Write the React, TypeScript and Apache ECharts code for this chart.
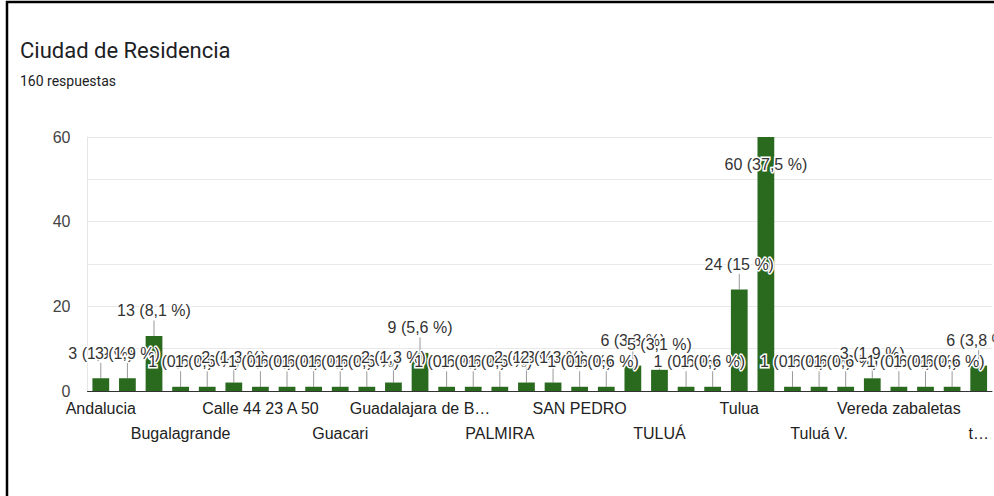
import React, { useEffect, useRef } from "react";
import * as echarts from "echarts";

const categories: string[] = [
  "Andalucia", "Andalucía", "BUGALAGRANDE", "Bugalagrande", "Bugalagrande Valle", "CALI",
  "Calle 44 23 A 50", "Cartago", "El Dovio", "Guacari", "Guacarí", "Guadalajara",
  "Guadalajara de Buga", "Guadalajara de Buga Valle", "La Marina", "PALMIRA", "Palmira", "RIOFRIO",
  "SAN PEDRO", "San Pedro", "TULUA", "TULUÁ", "TULUÁ VALLE", "Trujillo",
  "Tulua", "Tuluá", "Tulua Valle", "Tuluá V.", "Tuluá Valle", "Tuluá, Valle",
  "Vereda zabaletas", "Zarzal", "ciudad de Tuluá", "tuluá valle del cauca",
];

const counts: number[] = [
  3, 3, 13, 1, 1, 2,
  1, 1, 1, 1, 1, 2,
  9, 1, 1, 1, 2, 2,
  1, 1, 6, 5, 1, 1,
  24, 60, 1, 1, 1, 3,
  1, 1, 1, 6,
];

// Displayed tick labels (Google Charts shows every third, alternating rows)
const tickLabels: string[] = [
  "Andalucia", "", "", "Bugalagrande", "", "",
  "Calle 44 23 A 50", "", "", "Guacari", "", "",
  "Guadalajara de B…", "", "", "PALMIRA", "", "",
  "SAN PEDRO", "", "", "TULUÁ", "", "",
  "Tulua", "", "", "Tuluá V.", "", "",
  "Vereda zabaletas", "", "", "t…",
];

const yTicks: number[] = [0, 20, 40, 60];

const title = "Ciudad de Residencia";
const subtitle = "160 respuestas";

export default function App() {
  const ref = useRef<HTMLDivElement>(null);

  useEffect(() => {
    if (!ref.current) return;
    const chart = echarts.init(ref.current, undefined, { renderer: "svg" });
    const total = counts.reduce((a, b) => a + b, 0);
    const pct = (v: number) => {
      const p = Math.round((v / total) * 1000) / 10;
      return (p % 1 === 0 ? p.toFixed(0) : p.toFixed(1)).replace(".", ",");
    };
    let rowToggle = 0;
    const rowOf: Record<number, number> = {};
    tickLabels.forEach((t, i) => {
      if (t) {
        rowOf[i] = rowToggle % 2;
        rowToggle++;
      }
    });

    chart.setOption({
      animation: false,
      backgroundColor: "#ffffff",
      textStyle: { fontFamily: "Liberation Sans, Arial, sans-serif" },
      graphic: [
        { type: "line", shape: { x1: 6, y1: 2, x2: 994, y2: 2 }, style: { stroke: "#000", lineWidth: 2.5 } },
        { type: "line", shape: { x1: 7, y1: 1, x2: 7, y2: 496 }, style: { stroke: "#000", lineWidth: 2.5 } },
        {
          type: "text", left: 20, top: 39,
          style: { text: title, fontSize: 22, fontFamily: "Roboto", fill: "#202124" },
        },
        {
          type: "text", left: 20, top: 74,
          style: { text: subtitle, fontSize: 14, fontFamily: "Roboto", fill: "#202124" },
        },
      ],
      grid: { left: 87.5, right: 2, top: 137, bottom: 105, containLabel: false },
      xAxis: {
        type: "category",
        data: categories,
        axisTick: { show: false },
        axisLine: { show: true, lineStyle: { color: "#333333", width: 1 } },
        axisLabel: {
          interval: 0,
          margin: 5,
          fontSize: 16,
          color: "#222222",
          lineHeight: 25,
          formatter: (_v: string, idx: number) => {
            const t = tickLabels[idx];
            if (!t) return "";
            return rowOf[idx] === 1 ? "\n" + t : t;
          },
        },
      },
      yAxis: {
        type: "value",
        min: 0,
        max: 60,
        interval: 10,
        axisLine: { show: true, lineStyle: { color: "#e6e6e6" } },
        axisTick: { show: false },
        splitLine: { show: true, lineStyle: { color: "#e8e8e8", width: 1 } },
        axisLabel: {
          margin: 17,
          fontSize: 16,
          color: "#444444",
          formatter: (v: number) => (yTicks.indexOf(v) >= 0 ? String(v) : ""),
        },
      },
      series: [
        {
          type: "bar",
          data: counts,
          barWidth: "63%",
          itemStyle: { color: "#2a6a1f" },
          label: {
            show: true,
            position: "top",
            distance: 0,
            fontSize: 16,
            color: "#333333",
            textBorderColor: "#ffffff",
            textBorderWidth: 3,
            formatter: (p: any) => `${p.value} (${pct(p.value)} %)`,
          },
          labelLayout: (params: any) => {
            const top = params.rect.y;
            if (top < 170) return { dy: 35 };
            return { dy: -17 };
          },
          labelLine: { show: true, lineStyle: { color: "#999999", width: 1 } },
        },
      ],
    });
    return () => chart.dispose();
  }, []);

  return (
    <div
      ref={ref}
      style={{ position: "fixed", left: 0, top: 0, width: 994, height: 496 }}
    />
  );
}
